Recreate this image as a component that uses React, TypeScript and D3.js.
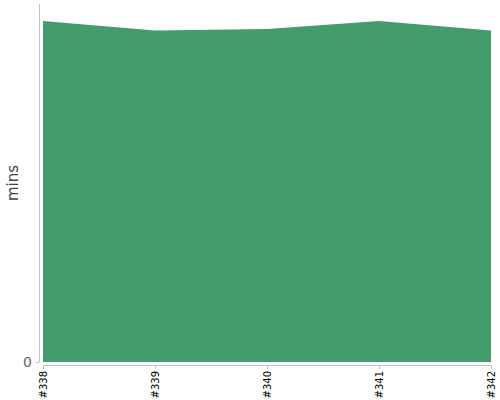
import * as d3 from "d3";
import { useEffect, useRef } from "react";

const builds = ["#338", "#339", "#340", "#341", "#342"];
const minutes = [33.35, 32.4, 32.55, 33.35, 32.4];
const yTicks = [0];

const App = () => {
  const ref = useRef(null);

  useEffect(() => {
    var width = 500;
    var height = 400;

    var svg = d3
      .select(ref.current)
      .append("svg")
      .attr("width", width)
      .attr("height", height)
      .style("position", "absolute")
      .style("left", "0px")
      .style("top", "0px")
      .attr("font-family", "DejaVu Sans, sans-serif");

    var x = d3.scalePoint().domain(builds).range([43, 491]);
    var y = d3.scaleLinear().domain([0, 35]).range([362, 4]);

    var data = builds.map((b, i) => ({ build: b, value: minutes[i] }));

    var area = d3
      .area<any>()
      .x((d) => x(d.build) as number)
      .y0(y(0))
      .y1((d) => y(d.value));

    svg
      .append("path")
      .datum(data)
      .attr("d", area)
      .attr("fill", "#449c6c");

    // y axis line
    svg
      .append("line")
      .attr("x1", 39.5)
      .attr("x2", 39.5)
      .attr("y1", 4)
      .attr("y2", 362)
      .attr("stroke", "#c4c4c4");

    svg
      .selectAll("yTick")
      .data(yTicks)
      .enter()
      .append("line")
      .attr("x1", 36)
      .attr("x2", 39.5)
      .attr("y1", (d) => y(d) + 0.5)
      .attr("y2", (d) => y(d) + 0.5)
      .attr("stroke", "#c4c4c4");

    svg
      .selectAll("yLabel")
      .data(yTicks)
      .enter()
      .append("text")
      .attr("x", 32)
      .attr("y", (d) => y(d))
      .attr("dy", "0.35em")
      .attr("text-anchor", "end")
      .attr("fill", "#666")
      .attr("font-size", 14)
      .text((d) => d);

    // x axis line
    svg
      .append("line")
      .attr("x1", 43)
      .attr("x2", 491)
      .attr("y1", 365.5)
      .attr("y2", 365.5)
      .attr("stroke", "#c4c4c4");

    svg
      .selectAll("xTick")
      .data(builds)
      .enter()
      .append("line")
      .attr("x1", (d) => (x(d) as number) + 0.5)
      .attr("x2", (d) => (x(d) as number) + 0.5)
      .attr("y1", 365.5)
      .attr("y2", 369)
      .attr("stroke", "#c4c4c4");

    svg
      .selectAll("xLabel")
      .data(builds)
      .enter()
      .append("text")
      .attr("transform", (d) => "translate(" + ((x(d) as number) + 4) + ",371) rotate(-90)")
      .attr("text-anchor", "end")
      .attr("fill", "#000")
      .attr("font-size", 10)
      .text((d) => d);

    svg
      .append("text")
      .attr("transform", "translate(18,183) rotate(-90)")
      .attr("text-anchor", "middle")
      .attr("fill", "#444")
      .attr("font-size", 15)
      .text("mins");

    return function () {
      svg.remove();
    };
  }, []);
  return <div ref={ref} />;
};

export default App;
